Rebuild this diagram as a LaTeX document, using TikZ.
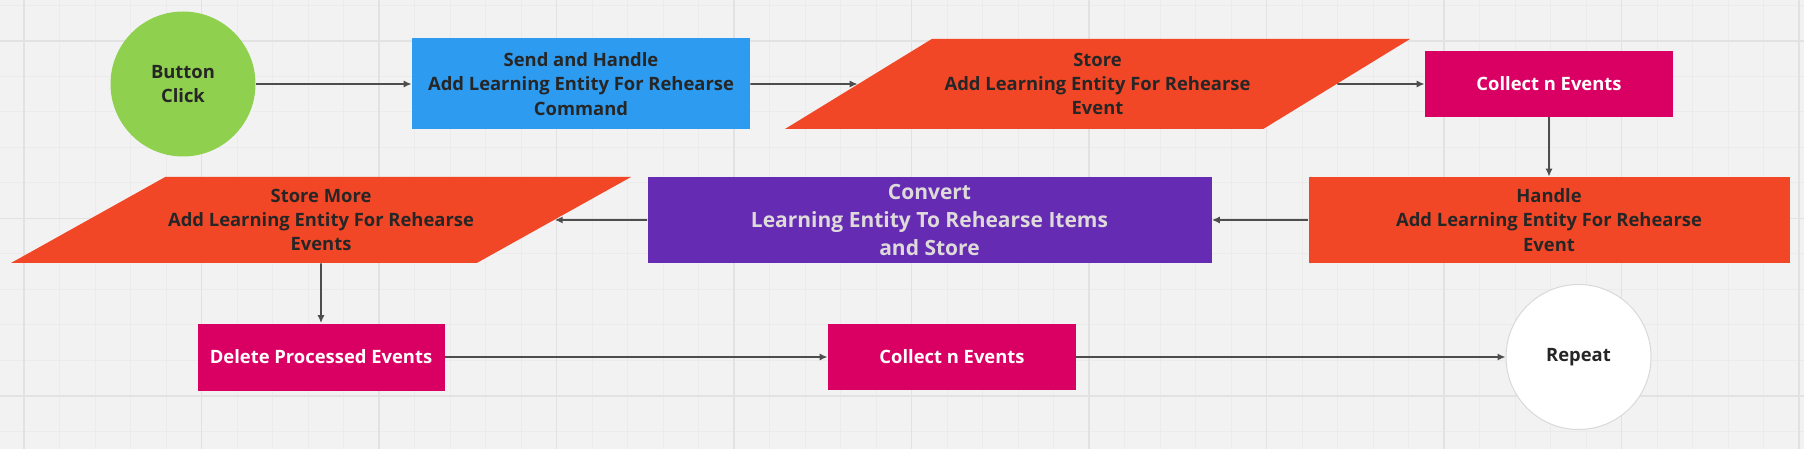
\documentclass[tikz,border=0pt]{standalone}
\usepackage{fontspec}
\setmainfont{Open Sans}
\usetikzlibrary{arrows.meta,shapes.geometric}
\definecolor{flowBg}       {RGB}{242, 242, 242}
\definecolor{flowGridMinor}{RGB}{235, 235, 235}
\definecolor{flowGridMajor}{RGB}{226, 226, 226}
\definecolor{flowGreen}    {RGB}{143, 209,  79}
\definecolor{flowBlue}     {RGB}{ 45, 155, 240}
\definecolor{flowRed}      {RGB}{242,  71,  38}
\definecolor{flowPink}     {RGB}{218,   0,  99}
\definecolor{flowPurple}   {RGB}{101,  44, 179}
\definecolor{flowInk}      {RGB}{ 38,  38,  38}
\definecolor{flowPale}     {RGB}{222, 218, 218}
\definecolor{flowArrow}    {RGB}{ 77,  77,  77}

\begin{document}
\begin{tikzpicture}[x=50pt,y=50pt,
    txt/.style={font=\fontsize{9.2}{12.2}\selectfont\bfseries,align=center,text=flowInk,inner sep=0pt},
    startend/.style={txt,circle,minimum size=72.5pt},
    procbox/.style={txt,rectangle},
    iobox/.style={txt,trapezium,trapezium stretches body,fill=flowRed},
    flow/.style={flowArrow,line width=0.9pt,-{Latex[length=4pt,width=3.6pt]}}]
        \useasboundingbox (0,0) rectangle (18.04,-4.49);
        % Board
        \fill[flowBg] (0,0) rectangle (18.04,-4.49);
        \foreach \i in {0,...,50}
          \draw[flowGridMinor,line width=0.5pt] ({0.24+0.355*\i},0) -- ++(0,-4.49);
        \foreach \i in {0,...,12}
          \draw[flowGridMinor,line width=0.5pt] (0,{-0.055-0.355*\i}) -- ++(18.04,0);
        \foreach \i in {0,...,10}
          \draw[flowGridMajor,line width=0.6pt] ({0.24+1.775*\i},0) -- ++(0,-4.49);
        \foreach \i in {0,...,2}
          \draw[flowGridMajor,line width=0.6pt] (0,{-0.41-1.775*\i}) -- ++(18.04,0);
        % First row
        \node[startend,fill=flowGreen] (click) at (1.83,-0.84) {Button\\Click};
        \node[procbox,fill=flowBlue,minimum width=169pt,minimum height=45.5pt]
          (send) at (5.81,-0.84) {Send and Handle\\Add Learning Entity For Rehearse\\Command};
        \node[iobox,trapezium left angle=23,trapezium right angle=157,
          minimum width=312.5pt,minimum height=45pt]
          (store) at (10.975,-0.84) {Store\\Add Learning Entity For Rehearse\\Event};
        \node[procbox,fill=flowPink,text=white,minimum width=124pt,minimum height=33pt]
          (collectA) at (15.49,-0.84) {Collect n Events};
        % Second row
        \node[procbox,fill=flowRed,minimum width=240.5pt,minimum height=43pt]
          (handle) at (15.49,-2.2) {Handle\\Add Learning Entity For Rehearse\\Event};
        \node[procbox,fill=flowPurple,text=flowPale,font=\fontsize{10.5}{14}\selectfont\bfseries,
          minimum width=282pt,minimum height=43pt]
          (convert) at (9.295,-2.2) {Convert\\Learning Entity To Rehearse Items\\and Store};
        \node[iobox,trapezium left angle=22,trapezium right angle=158,
          minimum width=310pt,minimum height=43pt]
          (storemore) at (3.21,-2.2) {Store More\\Add Learning Entity For Rehearse\\Events};
        % Third row
        \node[procbox,fill=flowPink,text=white,minimum width=123.5pt,minimum height=33.5pt]
          (delete) at (3.21,-3.57) {Delete Processed Events};
        \node[procbox,fill=flowPink,text=white,minimum width=124pt,minimum height=33pt]
          (collectB) at (9.52,-3.57) {Collect n Events};
        \node[startend,fill=white,draw=black!15,line width=0.5pt]
          (repeat) at (15.785,-3.57) {Repeat};
        % Arrows
        \draw[flow] (click) -- (send);
        \draw[flow] (send) -- (store);
        \draw[flow] (store) -- (collectA);
        \draw[flow] (collectA) -- (handle);
        \draw[flow] (handle) -- (convert);
        \draw[flow] (convert) -- (storemore);
        \draw[flow] (storemore) -- (delete);
        \draw[flow] (delete) -- (collectB);
        \draw[flow] (collectB) -- (repeat);
      \end{tikzpicture}
\end{document}
